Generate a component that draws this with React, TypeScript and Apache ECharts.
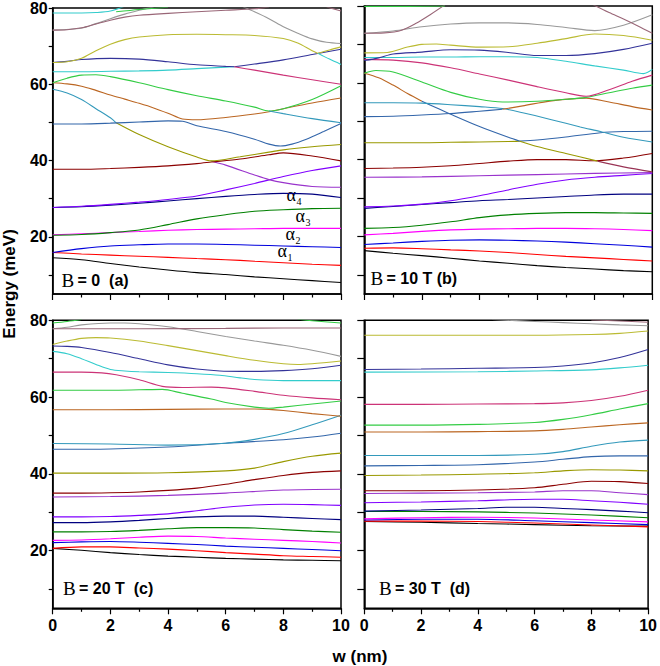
import React, { useEffect, useRef } from "react";
import * as echarts from "echarts";

type Pt = [number, number];

// ---------------- axis values ----------------
const xMin = 0;
const xMax = 10;
const yMin = 5;
const yMax = 80;
const yLabelValues = [20, 40, 60, 80];
const yTickValues = [10, 20, 30, 40, 50, 60, 70, 80];
const panelFieldText = ["= 0  (a)", "= 10 T (b)", "= 20 T  (c)", "= 30 T  (d)"];
const alphaSubs = ["4", "3", "2", "1"];

// ---------------- panel (a) B = 0 ----------------
const aBlack: Pt[] = [[0,14.5],[1,14.0],[2,13.0],[3,12.1],[4,11.3],[5,10.6],[6,10.1],[7,9.5],[8,9.0],[9,8.5],[10,8.0]];
const aRed: Pt[] = [[0,15.9],[1,15.5],[2,15.2],[3,14.9],[4,14.6],[5,14.3],[6,14.0],[7,13.6],[8,13.2],[9,12.8],[10,12.5]];
const aBlue: Pt[] = [[0,15.9],[1,16.9],[2,17.6],[3,17.9],[4,18.1],[5,18.1],[6,18.0],[7,17.8],[8,17.6],[9,17.4],[10,17.2]];
const aMagenta: Pt[] = [[0,20.5],[1,20.8],[2,21.1],[3,21.4],[4,21.7],[5,21.9],[6,22.0],[7,22.1],[8,22.2],[9,22.2],[10,22.2]];
const aGreen: Pt[] = [[0,20.4],[1,20.6],[2,21.1],[3,21.8],[4,23.2],[5,24.7],[6,25.8],[7,26.7],[8,27.1],[9,27.4],[10,27.5]];
const aNavy: Pt[] = [[0,27.7],[1,27.9],[2,28.3],[3,28.8],[4,29.4],[5,30.0],[6,30.6],[7,31.1],[8,31.4],[9,31.2],[10,30.3]];
const aViolet: Pt[] = [[0,27.7],[1,28.0],[2,28.5],[3,29.1],[4,29.8],[5,30.7],[6,32.3],[7,34.0],[8,35.8],[9,37.4],[10,38.6]];
const aPurple: Pt[] = [[5.5,39.8],[6,38.8],[7,36.2],[7.5,35.0],[8,34.2],[9,33.2],[10,33.0]];
const aDarkRed: Pt[] = [[0,37.7],[1,37.7],[2,37.9],[3,38.2],[4,38.6],[5,39.2],[5.5,39.6],[6.5,40.4],[7.5,41.5],[8,42.0],[9,41.2],[10,39.9]];
const aOlive: Pt[] = [[2.2,49.9],[3,46.8],[4,43.6],[5,40.9],[5.5,39.9],[6.5,41.0],[7.5,42.2],[8,42.8],[9,43.6],[10,44.2]];
const aTeal: Pt[] = [[0,58.7],[0.5,57.7],[1,56.0],[1.5,53.6],[2,51.2],[2.2,49.9]];
const aBlueTeal: Pt[] = [[0,49.6],[1,49.6],[2,49.8],[3,50.1],[4,50.4],[4.5,50.3],[5,49.1],[6,47.6],[7,45.6],[7.5,44.3],[7.9,43.8],[8.3,44.3],[8.8,45.6],[9.4,47.6],[10,49.7]];
const aBrown: Pt[] = [[0,60.4],[0.5,60.1],[1,59.5],[1.5,58.4],[2,57.2],[2.5,56.1],[3,55.0],[3.5,53.8],[4,52.4],[4.5,50.9],[5,50.7],[6,51.3],[7,52.2],[7.5,52.8],[8,53.6],[9,55.1],[10,56.4]];
const aGreen2: Pt[] = [[0,60.4],[0.5,61.6],[1,62.4],[1.5,62.5],[2,62.0],[3,60.4],[4,58.6],[5,57.0],[6,55.6],[7,54.0],[7.5,53.0],[8,53.6],[9,56.0],[10,59.6]];
const aTeal2: Pt[] = [[7.5,53.0],[8,52.3],[9,51.0],[10,49.9]];
const aCyan: Pt[] = [[0,63.3],[1,63.3],[2,63.4],[3,63.5],[4,63.7],[5,64.1],[6,64.5],[6.3,64.6]];
const aNavy2: Pt[] = [[6.3,64.6],[7,65.3],[8,66.4],[9,67.8],[10,69.2]];
const aNavyPurple: Pt[] = [[0,65.7],[0.5,66.0],[1,66.5],[2,66.8],[3,66.6],[4,65.9],[5,65.1],[6,64.7],[6.3,64.6]];
const aCrimson: Pt[] = [[6.3,64.6],[7,63.7],[8,62.4],[9,61.2],[10,60.0]];
const aOliveYellow: Pt[] = [[0,65.7],[0.5,65.9],[1,66.8],[1.5,68.8],[2,70.5],[2.5,71.7],[3,72.4],[4,73.0],[5,73.1],[6,73.0],[7,72.8],[8,72.0],[8.5,70.8],[9,68.8],[9.2,68.1]];
const aOliveYellow2: Pt[] = [[9.2,68.1],[9.6,69.0],[10,69.8]];
const aCyan2: Pt[] = [[9.2,68.1],[9.6,66.6],[10,65.2]];
const aGrey: Pt[] = [[6.6,80.3],[7,79.0],[7.5,77.2],[8,75.1],[8.5,73.4],[9,71.9],[9.5,71.0],[10,70.7]];
const aGreyTop: Pt[] = [[0,74.2],[1,74.7],[1.5,75.9],[2,77.2],[2.5,78.4],[3,79.4],[3.5,80.3]];
const aBrownPurple: Pt[] = [[0,74.2],[0.5,74.3],[1,74.8],[1.5,75.8],[2,76.8],[2.5,77.6],[3,78.1],[4,78.6],[5,79.0],[6,79.4],[7,79.8],[7.5,80.3]];
const aBrownPurpleR: Pt[] = [[9.5,80.3],[10,79.2]];
const aCyanTop: Pt[] = [[0,78.7],[1,78.7],[1.5,78.8],[2,79.2],[2.5,80.5]];
const aGreenTop: Pt[] = [[2.2,79.0],[3,79.6],[4,80.2]];

// ---------------- panel (b) B = 10 T ----------------
const bBlack: Pt[] = [[0,16.3],[1,15.6],[2,15.0],[3,14.3],[4,13.6],[5,13.0],[6,12.4],[7,11.9],[8,11.5],[9,11.1],[10,10.8]];
const bRed: Pt[] = [[0,16.9],[1,17.0],[2,16.8],[3,16.5],[4,16.2],[5,15.8],[6,15.3],[7,14.8],[8,14.4],[9,14.0],[10,13.6]];
const bBlue: Pt[] = [[0,17.9],[1,18.3],[2,18.7],[3,19.0],[4,19.1],[5,19.0],[6,18.8],[7,18.5],[8,18.1],[9,17.7],[10,17.2]];
const bMagenta: Pt[] = [[0,20.4],[1,20.8],[2,21.3],[3,21.7],[4,21.9],[5,22.0],[6,22.1],[7,22.1],[8,22.0],[9,21.8],[10,21.5]];
const bGreen: Pt[] = [[0,22.1],[1,22.3],[2,22.9],[3,23.8],[4,24.9],[5,25.6],[6,26.0],[7,26.2],[8,26.2],[9,26.1],[10,26.0]];
const bNavy: Pt[] = [[0,27.3],[1,27.8],[2,28.3],[3,28.8],[4,29.3],[5,29.6],[6,30.0],[7,30.4],[8,30.8],[9,31.0],[10,31.0]];
const bViolet: Pt[] = [[0,27.7],[1,27.9],[2,28.4],[3,29.3],[4,30.6],[5,32.1],[6,33.6],[7,34.7],[8,35.4],[9,35.9],[10,36.4]];
const bPurple: Pt[] = [[0,35.4],[2,35.5],[4,35.8],[6,36.1],[8,36.4],[10,36.6]];
const bDarkRed: Pt[] = [[0,37.7],[1,37.8],[2,38.0],[3,38.4],[4,39.0],[5,39.6],[6,40.0],[7,40.0],[8,39.7],[9,40.4],[10,41.6]];
const bOlive: Pt[] = [[0,44.4],[1,44.4],[2,44.4],[3,44.5],[4,44.6],[5,44.7],[5.4,44.8]];
const bBlue2: Pt[] = [[5.4,44.8],[6,45.1],[7,45.9],[8.2,47.0],[9,47.3],[10,47.4]];
const bDescBrown: Pt[] = [[0,62.5],[0.5,61.3],[1,59.4],[1.5,57.2],[2,55.2]];
const bDescBlue: Pt[] = [[2,55.2],[2.5,53.5],[3,51.8],[4,48.6],[5,45.8],[5.4,44.8]];
const bDescOlive: Pt[] = [[5.4,44.8],[6,43.4],[7,41.6],[8.1,39.6]];
const bDescWine: Pt[] = [[8.1,39.6],[9,38.1],[10,36.8]];
const bTeal: Pt[] = [[0,54.8],[1,54.8],[2,54.7],[3,54.3],[4,53.8],[4.8,53.3],[5.5,52.2],[6.5,50.4],[7.5,48.5],[8.2,47.3],[9,45.8],[10,44.6]];
const bBlueTeal: Pt[] = [[0,51.2],[1,51.3],[2,51.6],[3,52.0],[4,52.6],[4.8,53.1]];
const bBrown2: Pt[] = [[4.8,53.1],[5.5,54.0],[6.5,55.3],[7.7,56.0],[8.5,55.0],[9.3,53.8],[10,52.9]];
const bGreen2: Pt[] = [[0,62.5],[0.4,63.2],[1,62.8],[2,60.2],[3,57.5],[4,55.7],[4.8,55.0],[6,55.2],[7,55.7],[7.7,56.2],[8.5,57.4],[9.3,58.6],[10,59.4]];
const bCrimson: Pt[] = [[0,66.1],[1,65.9],[2,65.2],[3,63.9],[4,62.3],[5,60.7],[6,59.0],[7,57.4],[7.7,56.5],[8.5,58.2],[9.3,60.4],[10,62.0]];
const bCyan: Pt[] = [[0,66.6],[1,66.6],[2,66.7],[3,66.7],[4,66.8],[5,66.8],[6,66.6],[7,65.6],[8,64.4],[9,63.3],[9.7,62.4],[10,63.5]];
const bNavyPurple: Pt[] = [[0,65.8],[0.5,66.5],[1,67.5],[2,68.0],[3,68.6],[4,68.5],[5,67.9],[6,67.1],[7,67.1],[8,67.6],[9,68.7],[10,70.3]];
const bOliveYellow: Pt[] = [[0,67.8],[0.8,67.9],[1.5,69.3],[2,70.0],[2.5,70.1],[3,69.8],[4,69.3],[5,69.4],[6,70.3],[7,71.5],[8,72.7],[9,72.3],[10,71.1]];
const bGrey: Pt[] = [[0,72.9],[1,73.5],[2,74.6],[3,75.3],[4,75.6],[5,75.6],[6,75.2],[7,74.4],[8,73.6],[9,75.0],[10,77.7]];
const bBrownPurple: Pt[] = [[0,72.9],[0.7,73.0],[1.3,73.7],[1.8,75.5],[2.3,77.8],[2.8,80.3]];
const bBrownPurple2: Pt[] = [[7.9,80.5],[8.5,78.3],[9,76.6],[9.5,74.8],[10,72.9]];
const bGreenTop: Pt[] = [[0,79.9],[1.5,79.9],[2.8,80.0]];

// ---------------- panel (c) B = 20 T ----------------
const cBlack: Pt[] = [[0,20.6],[1,20.1],[2,19.5],[3,19.0],[4,18.6],[5,18.3],[6,18.0],[7,17.8],[8,17.6],[9,17.5],[10,17.4]];
const cRed: Pt[] = [[0,20.6],[1,21.0],[2,21.0],[3,20.7],[4,20.4],[5,20.0],[6,19.5],[7,19.1],[8,18.7],[9,18.5],[10,18.3]];
const cBlue: Pt[] = [[0,22.1],[1,22.3],[2,22.4],[3,22.2],[4,21.9],[5,21.6],[6,21.2],[7,20.9],[8,20.6],[9,20.3],[10,20.0]];
const cMagenta: Pt[] = [[0,22.7],[1,22.8],[2,23.1],[3,23.5],[4,23.8],[5,23.7],[6,23.3],[7,23.0],[8,22.7],[9,22.4],[10,22.0]];
const cGreen: Pt[] = [[0,24.9],[1,24.9],[2,25.0],[3,25.3],[4,25.7],[5,26.0],[6,26.0],[7,25.9],[8,25.5],[9,25.1],[10,24.8]];
const cNavy: Pt[] = [[0,27.3],[1,27.3],[2,27.5],[3,27.9],[4,28.4],[5,28.8],[6,29.0],[7,29.0],[8,28.7],[9,28.4],[10,28.1]];
const cViolet: Pt[] = [[0,28.8],[1,28.8],[2,28.9],[3,29.2],[4,29.6],[5,30.4],[6,31.3],[7,31.9],[8,32.1],[9,32.0],[10,31.8]];
const cPurple: Pt[] = [[0,34.0],[2,34.1],[4,34.4],[6,35.0],[8,35.8],[10,36.0]];
const cDarkRed: Pt[] = [[0,35.0],[1,35.0],[2,35.1],[3,35.3],[4,35.7],[5,36.3],[6,37.3],[7,38.5],[8,39.6],[9,40.4],[10,40.8]];
const cOlive: Pt[] = [[0,40.2],[2,40.2],[4,40.3],[6,40.8],[7,41.5],[8,43.2],[9,44.6],[10,45.4]];
const cBlueTeal: Pt[] = [[0,46.4],[2,46.5],[4,47.0],[6,48.0],[8,48.9],[9,49.6],[10,50.6]];
const cTeal: Pt[] = [[0,47.9],[2,47.8],[4,47.5],[6,48.0],[7,49.0],[8,50.5],[9,52.8],[10,55.3]];
const cBrown: Pt[] = [[0,56.7],[2,56.7],[4,56.8],[6,56.9],[7,56.9],[7.5,56.8],[8,56.5],[9,55.7],[10,55.0]];
const cGreen2: Pt[] = [[0,61.8],[1,61.8],[2,61.8],[3,61.9],[3.8,62.0],[4.5,61.0],[5.5,59.5],[6,58.6],[7,57.4],[7.5,57.1],[8,57.4],[9,58.2],[10,59.0]];
const cCrimson: Pt[] = [[0,66.5],[1,66.5],[1.7,66.3],[2.2,65.8],[3,64.5],[3.8,62.8],[4.5,62.5],[5.5,62.6],[6,62.4],[7,61.5],[8,60.5],[9,59.8],[10,59.3]];
const cCyan: Pt[] = [[0,71.9],[0.5,71.3],[1,70.0],[1.5,68.5],[2,67.2],[2.5,66.8],[3,66.6],[4,66.4],[5,66.1],[5.8,65.7],[6.5,65.0],[7,64.6],[8,64.3],[9,64.3],[10,64.3]];
const cNavyPurple: Pt[] = [[0,73.3],[0.5,73.2],[1,72.9],[2,71.6],[3,70.0],[4,68.4],[5,67.3],[5.8,66.8],[6.5,66.7],[7,66.7],[8,66.9],[9,67.4],[10,68.3]];
const cOliveYellow: Pt[] = [[0,73.7],[0.5,74.6],[1,75.3],[1.5,75.5],[2,75.4],[3,74.6],[4,73.4],[5,72.1],[6,70.8],[7,69.6],[8,68.7],[8.5,68.5],[9,68.7],[10,69.4]];
const cGrey: Pt[] = [[0,77.8],[0.5,78.2],[1,78.8],[2,79.3],[2.5,79.3],[3,79.1],[4,78.3],[5,77.1],[6,75.8],[7,74.6],[8,73.5],[9,72.2],[10,70.6]];
const cBrownPurple: Pt[] = [[0,77.8],[3,77.8],[6,77.9],[8,78.0],[10,78.0]];
const cGreenTop: Pt[] = [[0,79.3],[0.5,79.7],[1,80.2]];
const cGreenTopR: Pt[] = [[8.5,80.3],[9,79.9],[10,79.3]];

// ---------------- panel (d) B = 30 T ----------------
const dBlack: Pt[] = [[0,27.6],[2,27.4],[4,27.1],[6,26.8],[8,26.5],[10,26.4]];
const dRed: Pt[] = [[0,27.7],[2,27.7],[4,27.6],[6,27.2],[8,26.7],[10,26.2]];
const dBlue: Pt[] = [[0,28.0],[2,28.2],[4,28.2],[6,27.8],[8,27.3],[10,26.8]];
const dMagenta: Pt[] = [[0,28.3],[2,28.6],[4,28.7],[6,28.5],[8,28.0],[10,27.5]];
const dGreen: Pt[] = [[0,30.2],[2,30.2],[4,30.1],[6,29.8],[8,29.3],[10,28.6]];
const dNavy: Pt[] = [[0,30.3],[2,30.6],[4,31.0],[5,31.3],[6,31.3],[7,31.0],[8,30.7],[9,30.3],[10,29.9]];
const dViolet: Pt[] = [[0,32.5],[2,32.7],[4,33.0],[6,33.4],[7,33.4],[8,33.0],[9,32.6],[10,32.1]];
const dPurple: Pt[] = [[0,34.9],[2,35.0],[4,35.1],[6,35.3],[7,35.6],[8,35.6],[9,35.1],[10,34.6]];
const dDarkRed: Pt[] = [[0,35.6],[2,35.6],[4,35.8],[6,36.4],[7,37.3],[8,38.1],[9,38.0],[10,37.5]];
const dOlive: Pt[] = [[0,39.6],[2,39.7],[4,39.9],[6,40.3],[7,40.8],[8,41.1],[9,41.0],[10,40.8]];
const dBlueTeal: Pt[] = [[0,42.1],[2,42.2],[4,42.4],[6,43.1],[7,43.8],[8,44.5],[9,44.7],[10,44.7]];
const dTeal: Pt[] = [[0,44.8],[2,44.8],[4,44.8],[6,45.1],[7,45.8],[8,47.2],[9,48.3],[10,48.8]];
const dBrown: Pt[] = [[0,50.9],[2,50.9],[4,51.0],[6,51.2],[7,51.6],[8,52.2],[9,52.8],[10,53.3]];
const dGreen2: Pt[] = [[0,52.7],[2,52.7],[4,52.9],[6,53.4],[7,54.2],[8,55.4],[9,56.9],[10,58.3]];
const dCrimson: Pt[] = [[0,58.1],[2,58.1],[4,58.2],[6,58.3],[7,58.5],[8,59.1],[9,60.2],[10,61.8]];
const dCyan: Pt[] = [[0,66.5],[4,66.6],[6,66.8],[8,67.1],[9,67.6],[10,68.3]];
const dNavyPurple: Pt[] = [[0,67.2],[2,67.3],[4,67.5],[6,67.7],[7,68.1],[8,68.9],[9,70.3],[10,72.4]];
const dOliveYellow: Pt[] = [[0,76.1],[2,76.1],[4,76.1],[6,76.1],[8,76.3],[9,76.6],[10,77.2]];
const dGrey: Pt[] = [[4.5,80.2],[6,79.7],[7,79.4],[8,79.1],[9,78.8],[10,78.6]];
const dBrownPurple: Pt[] = [[8,80.1],[9,79.8],[10,79.5]];

// ---------------- styling (kept apart from data) ----------------
const COL: Record<string, string> = {
  black: "#000000", red: "#FF0000", blue: "#0000DD", magenta: "#FF00FF", dkgreen: "#008000",
  navy: "#000080", violet: "#8000FF", purple: "#9933CC", darkred: "#8B0000", olive: "#999900",
  blueteal: "#3366AA", teal: "#3399BB", brown: "#BB6622", green2: "#33CC44", crimson: "#CC3377",
  cyan: "#33CCCC", navypurple: "#333399", oliveyellow: "#BBBB33", grey: "#999999",
  brownpurple: "#996677", wine: "#993355",
};

const PANELS: [Pt[], string][][] = [
  [
    [aBlack,"black"],[aRed,"red"],[aBlue,"blue"],[aMagenta,"magenta"],[aGreen,"dkgreen"],
    [aNavy,"navy"],[aViolet,"violet"],[aPurple,"purple"],[aDarkRed,"darkred"],[aOlive,"olive"],
    [aTeal,"teal"],[aBlueTeal,"blueteal"],[aBrown,"brown"],[aGreen2,"green2"],[aTeal2,"teal"],
    [aCyan,"cyan"],[aNavy2,"navypurple"],[aNavyPurple,"navypurple"],[aCrimson,"crimson"],
    [aOliveYellow,"oliveyellow"],[aOliveYellow2,"oliveyellow"],[aCyan2,"cyan"],[aGrey,"grey"],
    [aGreyTop,"grey"],[aBrownPurple,"brownpurple"],[aBrownPurpleR,"brownpurple"],[aCyanTop,"cyan"],[aGreenTop,"green2"],
  ],
  [
    [bBlack,"black"],[bRed,"red"],[bBlue,"blue"],[bMagenta,"magenta"],[bGreen,"dkgreen"],
    [bNavy,"navy"],[bViolet,"violet"],[bPurple,"purple"],[bDarkRed,"darkred"],[bOlive,"olive"],
    [bBlue2,"blueteal"],[bDescBrown,"brown"],[bDescBlue,"blueteal"],[bDescOlive,"olive"],[bDescWine,"wine"],
    [bTeal,"teal"],[bBlueTeal,"blueteal"],[bBrown2,"brown"],[bGreen2,"green2"],[bCrimson,"crimson"],
    [bCyan,"cyan"],[bNavyPurple,"navypurple"],[bOliveYellow,"oliveyellow"],[bGrey,"grey"],
    [bBrownPurple,"brownpurple"],[bBrownPurple2,"brownpurple"],[bGreenTop,"green2"],
  ],
  [
    [cBlack,"black"],[cRed,"red"],[cBlue,"blue"],[cMagenta,"magenta"],[cGreen,"dkgreen"],
    [cNavy,"navy"],[cViolet,"violet"],[cPurple,"purple"],[cDarkRed,"darkred"],[cOlive,"olive"],
    [cBlueTeal,"blueteal"],[cTeal,"teal"],[cBrown,"brown"],[cGreen2,"green2"],[cCrimson,"crimson"],
    [cCyan,"cyan"],[cNavyPurple,"navypurple"],[cOliveYellow,"oliveyellow"],[cGrey,"grey"],
    [cBrownPurple,"brownpurple"],[cGreenTop,"green2"],[cGreenTopR,"green2"],
  ],
  [
    [dBlack,"black"],[dRed,"red"],[dBlue,"blue"],[dMagenta,"magenta"],[dGreen,"dkgreen"],
    [dNavy,"navy"],[dViolet,"violet"],[dPurple,"purple"],[dDarkRed,"darkred"],[dOlive,"olive"],
    [dBlueTeal,"blueteal"],[dTeal,"teal"],[dBrown,"brown"],[dGreen2,"green2"],[dCrimson,"crimson"],
    [dCyan,"cyan"],[dNavyPurple,"navypurple"],[dOliveYellow,"oliveyellow"],[dGrey,"grey"],[dBrownPurple,"brownpurple"],
  ],
];

const GRIDS = [
  { left: 52.7, top: 6, width: 288.3, height: 288 },
  { left: 364.3, top: 6, width: 288, height: 288 },
  { left: 52.7, top: 320.3, width: 288.3, height: 288 },
  { left: 364.3, top: 320.3, width: 288, height: 288 },
];
const LABEL_POS = [
  [61.5, 280], [370.5, 278.5], [63, 588.5], [379, 588.5],
];
const ALPHA_POS = [
  [286.5, 195], [295.5, 216], [285.5, 234], [277.5, 251],
];

const SANS = "'Liberation Sans', Arial, sans-serif";
const SERIF = "'Liberation Serif', 'Times New Roman', serif";

function buildOption(): echarts.EChartsOption {
  const grid = GRIDS.map((g) => ({
    ...g,
    show: true,
    borderColor: "#000",
    borderWidth: 1.5,
    backgroundColor: "transparent",
    containLabel: false,
  }));
  const xAxis = GRIDS.map((_, i) => ({
    type: "value" as const,
    gridIndex: i,
    min: xMin,
    max: xMax,
    interval: 2,
    axisLine: { show: true, onZero: false, lineStyle: { color: "#000", width: 1.5 } },
    axisTick: { show: true, inside: false, length: 6, lineStyle: { color: "#000", width: 1.2 } },
    minorTick: { show: true, splitNumber: 2, length: 3.5, lineStyle: { color: "#000", width: 1.2 } },
    axisLabel: {
      show: i >= 2, color: "#000", fontWeight: "bold" as const, fontSize: 16,
      fontFamily: SANS, margin: 9,
    },
    splitLine: { show: false },
    minorSplitLine: { show: false },
  }));
  const yAxis = GRIDS.map((_, i) => ({
    type: "value" as const,
    gridIndex: i,
    min: yMin,
    max: yMax,
    axisLine: { show: true, onZero: false, lineStyle: { color: "#000", width: 1.5 } },
    axisTick: {
      show: true, inside: false, length: i % 2 === 0 ? 4 : 7,
      customValues: yTickValues, lineStyle: { color: "#000", width: 1.2 },
    },
    axisLabel: {
      show: i % 2 === 0, customValues: yLabelValues, color: "#000", fontWeight: "bold" as const,
      fontSize: 16, fontFamily: SANS, margin: 5,
    },
    splitLine: { show: false },
  }));
  const series: any[] = [];
  PANELS.forEach((curves, i) => {
    curves.forEach(([data, colKey], k) => {
      series.push({
        type: "line",
        name: `p${i}-${k}`,
        xAxisIndex: i,
        yAxisIndex: i,
        data,
        showSymbol: false,
        symbol: "none",
        smooth: 0.3,
        clip: true,
        silent: true,
        lineStyle: { color: COL[colKey], width: 1.1 },
      });
    });
  });

  const graphic: any[] = [];
  LABEL_POS.forEach(([x, y], i) => {
    graphic.push({
      type: "text",
      x, y,
      style: {
        text: `{b|B} {t|${panelFieldText[i]}}`,
        verticalAlign: "middle",
        rich: {
          b: { fontFamily: SERIF, fontSize: 19, fill: "#000", fontWeight: "normal" },
          t: { fontFamily: SANS, fontSize: 16, fill: "#000", fontWeight: "bold" },
        },
      },
    });
  });
  ALPHA_POS.forEach(([x, y], i) => {
    graphic.push({
      type: "text", x, y,
      style: { text: "α", fontFamily: SERIF, fontSize: 18, fill: "#000", verticalAlign: "middle", align: "left" },
    });
    graphic.push({
      type: "text", x: x + 10, y: y + 6,
      style: { text: alphaSubs[i], fontFamily: SERIF, fontSize: 10, fill: "#000", verticalAlign: "middle", align: "left" },
    });
  });
  graphic.push({
    type: "text", x: 9, y: 284, rotation: Math.PI / 2,
    style: { text: "Energy (meV)", fontFamily: SANS, fontSize: 17, fontWeight: "bold", fill: "#000", align: "center", verticalAlign: "middle" },
  });
  graphic.push({
    type: "text", x: 360, y: 656,
    style: { text: "w (nm)", fontFamily: SANS, fontSize: 17, fontWeight: "bold", fill: "#000", align: "center", verticalAlign: "middle" },
  });

  return {
    animation: false,
    backgroundColor: "#fff",
    grid,
    xAxis,
    yAxis,
    series,
    graphic,
  } as any;
}

export default function App() {
  const ref = useRef<HTMLDivElement>(null);
  useEffect(() => {
    if (!ref.current) return;
    const chart = echarts.init(ref.current, undefined, { renderer: "svg" });
    chart.setOption(buildOption());
    return () => chart.dispose();
  }, []);
  return (
    <div
      ref={ref}
      style={{ position: "absolute", left: 0, top: 0, width: 660, height: 666, background: "#fff" }}
    />
  );
}
